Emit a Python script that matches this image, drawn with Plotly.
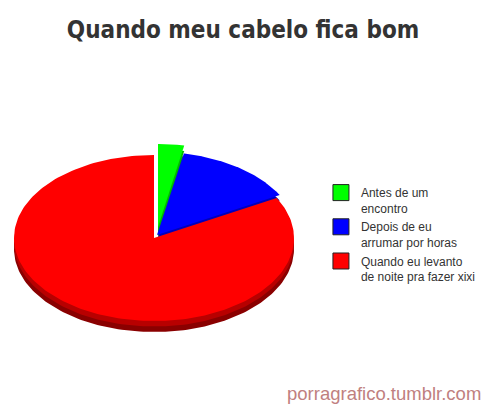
import numpy as np
import plotly.graph_objects as go

# chart data
title = "Quando meu cabelo fica bom"
labels = ["Antes de um<br>encontro",
          "Depois de eu<br>arrumar por horas",
          "Quando eu levanto<br>de noite pra fazer xixi"]
values = [3, 14, 83]
credit = "porragrafico.tumblr.com"

# look of the fake 3d pie (pixel units, y grows downward)
colors = ["#00ff00", "#0000ff", "#ff0000"]
side_colors = ["#009900", "#000099", "#8a0000"]
side_mid = ["#00bb00", "#0000bb", "#b80000"]
pull = [(4, 11), (3, 3), (0, 0)]   # (right, up) offset of each slice
W, H = 493, 408
cx, cy = 154, 238
rx, ry = 140, 83
depth = 11


def wedge(start, end, dx, dy, drop=0):
    # angles in degrees, clockwise from 12 o'clock
    t = np.radians(np.linspace(90 - start, 90 - end, 200))
    x = cx + dx + rx * np.cos(t)
    y = cy - dy + drop - ry * np.sin(t)
    vx, vy = cx + dx, cy - dy + drop
    return np.r_[vx, x, vx], np.r_[vy, y, vy]


total = sum(values)
edges = np.cumsum([0] + values) / total * 360

fig = go.Figure()

# sides first
for i in range(len(values)):
    for drop, col in [(depth, side_colors[i]), (depth * 0.5, side_mid[i])]:
        x, y = wedge(edges[i], edges[i + 1], pull[i][0], pull[i][1], drop)
        fig.add_trace(go.Scatter(x=x, y=y, fill="toself", fillcolor=col,
                                 mode="lines", line=dict(width=0, color=col),
                                 hoverinfo="skip", showlegend=False))

# top faces
for i in [2, 1, 0]:
    x, y = wedge(edges[i], edges[i + 1], pull[i][0], pull[i][1])
    fig.add_trace(go.Scatter(x=x, y=y, fill="toself", fillcolor=colors[i],
                             mode="lines", line=dict(width=0, color=colors[i]),
                             name=labels[i], text=f"{values[i]}%",
                             hoverinfo="text", showlegend=False))

# legend swatches
for i in range(len(values)):
    fig.add_trace(go.Scatter(x=[None], y=[None], mode="markers", name=labels[i],
                             legendgroup=str(i),
                             marker=dict(symbol="square", size=16, color=colors[i],
                                         line=dict(color="#222222", width=1))))

fig.update_layout(
    width=W, height=H,
    margin=dict(l=0, r=0, t=0, b=0),
    paper_bgcolor="white", plot_bgcolor="white",
    title=dict(text=title, x=0.493, xanchor="center", y=0.947, yanchor="top",
               font=dict(family="'DejaVu Sans Condensed', 'Liberation Sans Narrow', Impact",
                         size=24, color="#333333", weight="bold")),
    xaxis=dict(range=[0, W], visible=False, fixedrange=True),
    yaxis=dict(range=[H, 0], visible=False, fixedrange=True),
    legend=dict(x=0.651, y=0.563, xanchor="left", yanchor="top",
                font=dict(family="Liberation Sans, Arial", size=12, color="#333333"),
                itemsizing="trace", tracegroupgap=0, valign="top",
                bgcolor="rgba(0,0,0,0)"),
    annotations=[dict(text=credit, x=1, xref="paper", y=0.004, yref="paper",
                      xanchor="right", yanchor="bottom", showarrow=False, xshift=-10,
                      font=dict(family="Liberation Sans, Arial", size=18.5, color="#c08080"))],
    showlegend=True,
)

fig.write_html("out.html", config={"displayModeBar": False},
               post_script="document.body.style.margin='0';")
